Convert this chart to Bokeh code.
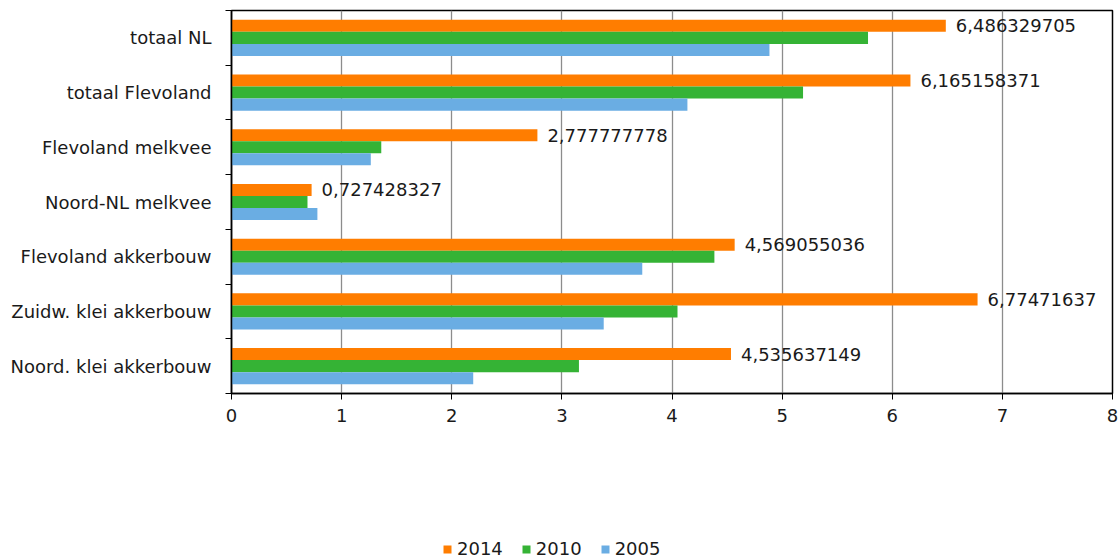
from bokeh.plotting import figure
from bokeh.models import (ColumnDataSource, Range1d, FixedTicker, Legend, LegendItem,
                          LabelSet)
from bokeh.layouts import column
from bokeh.core.properties import value
from bokeh.embed import file_html
from bokeh.resources import INLINE

categories = ["totaal NL", "totaal Flevoland", "Flevoland melkvee", "Noord-NL melkvee",
              "Flevoland akkerbouw", "Zuidw. klei akkerbouw", "Noord. klei akkerbouw"]
v2014 = [6.486329705, 6.165158371, 2.777777778, 0.727428327, 4.569055036, 6.77471637, 4.535637149]
v2010 = [5.78, 5.19, 1.36, 0.69, 4.385, 4.05, 3.155]
v2005 = [4.885, 4.14, 1.265, 0.78, 3.73, 3.38, 2.195]
series = ["2014", "2010", "2005"]
colors = ["#FF7D00", "#35B335", "#6AADE3"]
x_ticks = [0, 1, 2, 3, 4, 5, 6, 7, 8]

FONT = "DejaVu Sans"
TXT = "#1a1a1a"
n = len(categories)
centers = [n - i - 0.5 for i in range(n)]
bar_h = 0.22
offsets = [bar_h, 0.0, -bar_h]

p = figure(width=1120, height=438, output_backend="svg", toolbar_location=None,
           x_range=Range1d(0, 8), y_range=Range1d(0, n),
           min_border_left=231, min_border_right=8, min_border_top=10, min_border_bottom=45)
p.background_fill_color = "white"
p.border_fill_color = "white"
p.outline_line_color = "#000000"
p.outline_line_width = 1.5

for vals, name, col, off in zip([v2014, v2010, v2005], series, colors, offsets):
    src = ColumnDataSource(dict(y=[c + off for c in centers], right=vals))
    p.hbar(y="y", right="right", left=0, height=bar_h, source=src,
           fill_color=col, line_color=None)

lab_src = ColumnDataSource(dict(x=v2014, y=[c + offsets[0] for c in centers],
                                text=[str(v).replace(".", ",") for v in v2014]))
labels = LabelSet(x="x", y="y", text="text", source=lab_src, x_offset=10,
                  text_baseline="middle", text_align="left",
                  text_font=value(FONT), text_font_size=value("18px"), text_color=value(TXT))
p.add_layout(labels)

# x axis
p.xaxis.ticker = FixedTicker(ticks=x_ticks)
p.xaxis.axis_line_color = "#000000"
p.xaxis.axis_line_width = 1.5
p.xaxis.major_tick_line_color = "#000000"
p.xaxis.major_tick_out = 6
p.xaxis.major_tick_in = 0
p.xaxis.minor_tick_line_color = None
p.xaxis.major_label_text_font = FONT
p.xaxis.major_label_text_font_size = "18px"
p.xaxis.major_label_text_color = TXT
p.xaxis.major_label_standoff = 9

# y axis: labels at category centres, ticks at boundaries
p.yaxis.ticker = FixedTicker(ticks=centers, minor_ticks=list(range(n + 1)))
p.yaxis.major_label_overrides = {c: cat for c, cat in zip(centers, categories)}
p.yaxis.axis_line_color = "#000000"
p.yaxis.axis_line_width = 1.5
p.yaxis.major_tick_line_color = None
p.yaxis.major_tick_out = 0
p.yaxis.major_tick_in = 0
p.yaxis.minor_tick_line_color = "#000000"
p.yaxis.minor_tick_out = 6
p.yaxis.minor_tick_in = 0
p.yaxis.major_label_text_font = FONT
p.yaxis.major_label_text_font_size = "18px"
p.yaxis.major_label_text_color = TXT
p.yaxis.major_label_standoff = 14

p.xgrid.ticker = FixedTicker(ticks=x_ticks)
p.xgrid.grid_line_color = "#8c8c8c"
p.xgrid.grid_line_width = 1.3
p.ygrid.grid_line_color = None

# legend strip below the chart
lg = figure(width=1120, height=121, output_backend="svg", toolbar_location=None,
            x_range=Range1d(0, 1), y_range=Range1d(0, 1),
            min_border_left=0, min_border_right=0, min_border_top=0, min_border_bottom=0)
lg.axis.visible = False
lg.grid.visible = False
lg.outline_line_color = None
lg.background_fill_color = "white"
lg.border_fill_color = "white"
dummy = []
for col in colors:
    # swatch renderers kept outside the visible range; only their legend swatches show
    src = ColumnDataSource(dict(y=[-5.0], right=[1.0]))
    dummy.append(lg.hbar(y="y", right="right", left=0, height=0.1, source=src,
                         fill_color=col, line_color=None))

legend = Legend(items=[LegendItem(label=s, renderers=[r]) for s, r in zip(series, dummy)],
                orientation="horizontal", location=(211, 0),
                glyph_width=10, glyph_height=10, label_standoff=5, spacing=18,
                padding=0, margin=0, border_line_color=None, background_fill_alpha=0,
                label_text_font=FONT, label_text_font_size="18px", label_text_color=TXT,
                label_height=10)
lg.add_layout(legend)

layout = column(p, lg, spacing=0)
open("out.html", "w").write(file_html(layout, INLINE))
